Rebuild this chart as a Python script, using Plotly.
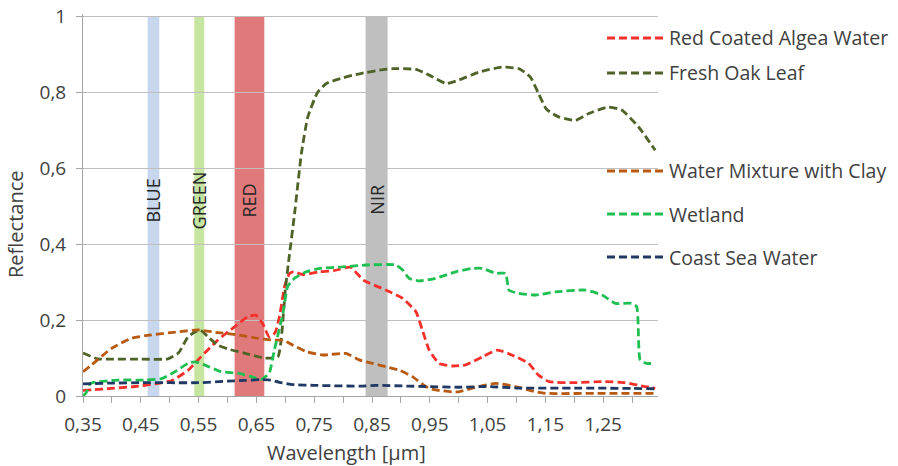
import plotly.graph_objects as go

# ---------------- data ----------------
series_names = ["Red Coated Algea Water", "Fresh Oak Leaf", "Water Mixture with Clay", "Wetland", "Coast Sea Water"]
series_colors = ["#f5302a", "#4f6228", "#b95a12", "#1fbf52", "#1f3864"]

wl_red = [0.35, 0.365, 0.399, 0.44, 0.474, 0.503, 0.532, 0.554, 0.583, 0.612, 0.635, 0.649, 0.661, 0.672,
          0.682, 0.69, 0.699, 0.707, 0.714, 0.73, 0.759, 0.784, 0.813, 0.835, 0.874, 0.903, 0.926, 0.937,
          0.949, 0.966, 0.989, 1.012, 1.041, 1.067, 1.092, 1.121, 1.138, 1.156, 1.196, 1.253, 1.288, 1.322, 1.34]
r_red = [0.015, 0.016, 0.020, 0.025, 0.032, 0.040, 0.068, 0.103, 0.147, 0.182, 0.209, 0.213, 0.19, 0.156,
         0.166, 0.21, 0.29, 0.322, 0.327, 0.32, 0.327, 0.33, 0.339, 0.305, 0.279, 0.257, 0.222, 0.174,
         0.121, 0.086, 0.079, 0.082, 0.103, 0.121, 0.108, 0.086, 0.055, 0.038, 0.035, 0.038, 0.035, 0.025, 0.02]

wl_oak = [0.35, 0.375, 0.40, 0.45, 0.497, 0.515, 0.532, 0.552, 0.566, 0.583, 0.605, 0.629, 0.664, 0.687,
          0.693, 0.70, 0.707, 0.716, 0.728, 0.739, 0.756, 0.771, 0.80, 0.817, 0.84, 0.863, 0.886, 0.926,
          0.949, 0.978, 1.0, 1.035, 1.075, 1.104, 1.124, 1.138, 1.152, 1.173, 1.202, 1.225, 1.259, 1.282, 1.311, 1.34]
r_oak = [0.113, 0.098, 0.097, 0.097, 0.098, 0.113, 0.156, 0.174, 0.156, 0.134, 0.122, 0.113, 0.100, 0.103,
         0.15, 0.28, 0.37, 0.48, 0.64, 0.735, 0.80, 0.823, 0.838, 0.845, 0.852, 0.858, 0.862, 0.86,
         0.845, 0.823, 0.832, 0.853, 0.866, 0.862, 0.84, 0.797, 0.755, 0.735, 0.726, 0.744, 0.761, 0.753, 0.709, 0.647]

wl_clay = [0.35, 0.365, 0.399, 0.434, 0.468, 0.514, 0.549, 0.583, 0.618, 0.652, 0.681, 0.696, 0.713, 0.736,
           0.765, 0.805, 0.828, 0.851, 0.874, 0.897, 0.92, 0.943, 0.96, 0.989, 1.0, 1.035, 1.064, 1.098,
           1.133, 1.15, 1.25, 1.34]
r_clay = [0.064, 0.082, 0.125, 0.152, 0.161, 0.169, 0.174, 0.167, 0.161, 0.152, 0.147, 0.147, 0.134, 0.117,
          0.108, 0.112, 0.095, 0.086, 0.077, 0.068, 0.051, 0.025, 0.016, 0.011, 0.011, 0.025, 0.033, 0.025,
          0.011, 0.007, 0.007, 0.007]

wl_wet = [0.35, 0.356, 0.363, 0.411, 0.457, 0.486, 0.509, 0.532, 0.543, 0.56, 0.589, 0.618, 0.641, 0.658,
          0.672, 0.681, 0.696, 0.704, 0.716, 0.736, 0.759, 0.799, 0.84, 0.891, 0.903, 0.914, 0.932, 0.96,
          0.995, 1.023, 1.041, 1.064, 1.081, 1.087, 1.104, 1.133, 1.167, 1.219, 1.248, 1.271, 1.299, 1.308,
          1.314, 1.325, 1.34]
r_wet = [0.0, 0.01, 0.033, 0.042, 0.042, 0.046, 0.064, 0.086, 0.09, 0.082, 0.064, 0.06, 0.051, 0.044,
         0.06, 0.121, 0.218, 0.288, 0.31, 0.327, 0.336, 0.34, 0.345, 0.345, 0.332, 0.31, 0.303, 0.31,
         0.327, 0.336, 0.336, 0.323, 0.323, 0.279, 0.27, 0.266, 0.274, 0.279, 0.266, 0.244, 0.244, 0.235,
         0.095, 0.086, 0.086]

wl_coast = [0.35, 0.40, 0.45, 0.50, 0.55, 0.60, 0.63, 0.656, 0.675, 0.69, 0.713, 0.75, 0.828, 0.857,
            0.914, 0.943, 1.0, 1.052, 1.10, 1.20, 1.30, 1.34]
r_coast = [0.032, 0.034, 0.035, 0.035, 0.035, 0.039, 0.041, 0.043, 0.042, 0.036, 0.030, 0.028, 0.026, 0.028,
           0.026, 0.025, 0.023, 0.025, 0.021, 0.021, 0.02, 0.019]

band_names = ["BLUE", "GREEN", "RED", "NIR"]
band_start = [0.4618, 0.5426, 0.6123, 0.8389]
band_end = [0.482, 0.5599, 0.6637, 0.877]
band_colors = ["#c6d7ee", "#c5e5a0", "#e07a7a", "#bfbfbf"]

x_tickvals = [0.35, 0.45, 0.55, 0.65, 0.75, 0.85, 0.95, 1.05, 1.15, 1.25]
y_tickvals = [0, 0.2, 0.4, 0.6, 0.8, 1]
y_max = 1.006

# ---------------- geometry ----------------
W, H = 898, 466
L, R, T, B = 83, 240, 14, 70
PW, PH = W - L - R, H - T - B
FONT = "Open Sans"
TXT = "#404040"


def px_x(px):
    """window pixel x -> paper coordinate"""
    return (px - L) / PW


def px_y(py):
    """window pixel y -> paper coordinate"""
    return (T + PH - py) / PH


xs = [wl_red, wl_oak, wl_clay, wl_wet, wl_coast]
ys = [r_red, r_oak, r_clay, r_wet, r_coast]

fig = go.Figure()
for name, color, x, y in zip(series_names, series_colors, xs, ys):
    fig.add_trace(go.Scatter(
        x=x, y=y, name=name, mode="lines",
        line=dict(color=color, width=2.8, dash="8px,4px", shape="spline", smoothing=0.5),
        showlegend=False,
    ))

# spectral bands
for nm, a, b, c in zip(band_names, band_start, band_end, band_colors):
    fig.add_shape(type="rect", xref="x", yref="y", x0=a, x1=b, y0=0, y1=1,
                  fillcolor=c, line=dict(width=0), layer="below")
    fig.add_annotation(x=(a + b) / 2, y=0.516, xref="x", yref="y", text=nm, textangle=-90,
                       xanchor="center", yanchor="middle",
                       showarrow=False, font=dict(family=FONT, size=18, color="#262626"))

# legend (manual, Excel-like uneven spacing)
leg_y = [38, 73, 171, 214, 257]
for name, color, ly in zip(series_names, series_colors, leg_y):
    fig.add_shape(type="line", xref="paper", yref="paper",
                  x0=px_x(607), x1=px_x(663), y0=px_y(ly), y1=px_y(ly),
                  line=dict(color=color, width=2.8, dash="8px,4px"))
    fig.add_annotation(x=px_x(667), y=px_y(ly), xref="paper", yref="paper", text=name,
                       xanchor="left", yanchor="middle", showarrow=False,
                       font=dict(family=FONT, size=19.5, color=TXT))

# axis titles
fig.add_annotation(x=px_x(346), y=px_y(452), xref="paper", yref="paper", text="Wavelength [µm]",
                   xanchor="center", yanchor="middle",
                   showarrow=False, font=dict(family=FONT, size=20, color=TXT))
fig.add_annotation(x=px_x(16), y=px_y(225), xref="paper", yref="paper", text="Reflectance",
                   xanchor="center", yanchor="middle",
                   textangle=-90, showarrow=False, font=dict(family=FONT, size=20, color=TXT))

fig.update_layout(
    width=W, height=H,
    margin=dict(l=L, r=R, t=T, b=B, pad=0, autoexpand=False),
    paper_bgcolor="white", plot_bgcolor="white",
    separators=",.",
    font=dict(family=FONT, size=18, color=TXT),
    showlegend=False,
)
fig.update_xaxes(
    range=[0.35, 0.35 + PW / 578.0], automargin=False,
    tickvals=x_tickvals, tickformat=".2f",
    ticks="outside", ticklen=6, tickcolor="#a6a6a6", tickwidth=1, ticklabelstandoff=5,
    minor=dict(dtick=0.05, tick0=0.35, ticks="outside", ticklen=6, tickcolor="#a6a6a6", showgrid=False),
    showline=True, linecolor="#a6a6a6", linewidth=1,
    showgrid=False, zeroline=False,
    tickfont=dict(family=FONT, size=19, color=TXT),
)
fig.update_yaxes(
    range=[0, y_max], tickvals=y_tickvals, automargin=False,
    ticks="outside", ticklen=6, tickcolor="#a6a6a6", tickwidth=1, ticklabelstandoff=6,
    ticklabeloverflow="allow",
    showline=True, linecolor="#a6a6a6", linewidth=1,
    showgrid=True, gridcolor="#bfbfbf", gridwidth=1, zeroline=False,
    tickfont=dict(family=FONT, size=19, color=TXT),
)

fig.write_html("out.html", config={"displayModeBar": False},
               post_script="document.body.style.margin='0px';")
